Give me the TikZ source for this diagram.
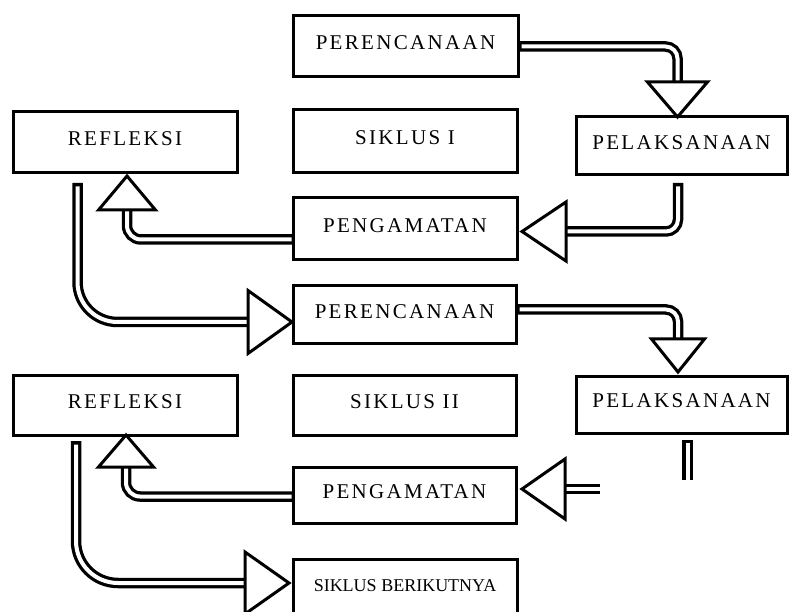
\documentclass[tikz,border=0pt]{standalone}
\usepackage{fontspec}
\setmainfont{Liberation Serif}
\newfontfamily\boxfont[LetterSpace=11]{Liberation Serif}
\usetikzlibrary{calc}
\newcommand\fatshaft[3][3.5pt]{%
  \draw[shaftout,rounded corners=#2] #3;
  \draw[shaftin,rounded corners=#2,shorten <=#1] #3;}
\begin{document}
\begin{tikzpicture}[x=1pt,y=-1pt,
  box/.style={draw,line width=3pt,inner sep=0pt,outer sep=0pt,text height=14pt,text depth=7.6pt,
    font=\boxfont\fontsize{21}{24}\selectfont},
  shaftout/.style={line width=10.5pt},
  shaftin/.style={line width=4pt,white},
  headtri/.style={draw,line width=3pt,fill=white,line join=miter}]
\useasboundingbox (0,0) rectangle (790,612);
\clip (0,0) rectangle (790,612);
% boxes
\node[box,minimum width=225pt,minimum height=61pt] (per1) at (405.5,46.5) {PERENCANAAN};
\node[box,minimum width=224pt,minimum height=61pt] (ref1) at (125,142.5) {REFLEKSI};
\node[box,minimum width=224pt,minimum height=63pt] (sik1) at (405,141.5) {SIKLUS I};
\node[box,minimum width=211pt,minimum height=58pt] (pel1) at (681.5,146) {PELAKSANAAN};
\node[box,minimum width=224pt,minimum height=62pt] (pen1) at (405,229) {PENGAMATAN};
\node[box,minimum width=223pt,minimum height=58pt] (per2) at (404.5,315) {PERENCANAAN};
\node[box,minimum width=224pt,minimum height=60pt] (ref2) at (125,405) {REFLEKSI};
\node[box,minimum width=223pt,minimum height=60pt] (sik2) at (404.5,405) {SIKLUS II};
\node[box,minimum width=211pt,minimum height=57pt] (pel2) at (681.5,404.5) {PELAKSANAAN};
\node[box,minimum width=223pt,minimum height=56pt] (pen2) at (404.5,495) {PENGAMATAN};
\node[box,minimum width=224pt,minimum height=60pt,text height=12pt,text depth=8pt,font=\rmfamily\fontsize{18}{20}\selectfont] (sb) at (405,589) {SIKLUS BERIKUTNYA};
% arrow 1: perencanaan -> pelaksanaan
\coordinate (t1) at ($(pel1.north)+(-4,0)$);
\fatshaft{12pt}{(per1.east) -| ($(t1)+(0,-34)$)}
\draw[headtri] (t1) -- ++(-30,-35) -- ++(60,0) -- cycle;
% arrow 2: pelaksanaan -> pengamatan
\coordinate (s2) at ($(pel1.south)+(-3.5,8)$);
\coordinate (t2) at ($(pen1.east)+(5,2.5)$);
\fatshaft{12pt}{(s2) |- ($(t2)+(43,0)$)}
\draw[headtri] (t2) -- ++(44,-29.5) -- ++(0,59) -- cycle;
% arrow 3: pengamatan -> refleksi
\coordinate (t3) at ($(ref1.south)+(2,3)$);
\fatshaft[1.5pt]{14pt}{($(pen1.west)+(0,10.5)$) -| ($(t3)+(0,33)$)}
\draw[headtri] (t3) -- ++(-28.5,34) -- ++(57,0) -- cycle;
% arrow 4: refleksi -> perencanaan 2
\coordinate (s4) at ($(ref1.south)+(-47.5,10)$);
\coordinate (t4) at ($(per2.west)+(-1,7)$);
\fatshaft{40pt}{(s4) |- ($(t4)+(-43,0)$)}
\draw[headtri] (t4) -- ++(-44,-31.5) -- ++(0,63) -- cycle;
% arrow 5: perencanaan 2 -> pelaksanaan 2
\coordinate (t5) at ($(pel2.north)+(-3.5,-4)$);
\fatshaft{12pt}{($(per2.east)+(0,-5.5)$) -| ($(t5)+(0,-32)$)}
\draw[headtri] (t5) -- ++(-26.5,-33) -- ++(53,0) -- cycle;
% arrow 6: broken pelaksanaan 2 -> pengamatan 2
\coordinate (f1) at ($(pel2.south)+(6,7)$);
\draw[shaftout] (f1) -- ++(0,40);
\draw[shaftin,shorten <=3pt] (f1) -- ++(0,40);
\coordinate (t6) at ($(pen2.east)+(6,-6)$);
\fatshaft[0pt]{0pt}{($(t6)+(78,0)$) -- ($(t6)+(42,0)$)}
\draw[headtri] (t6) -- ++(43,-30) -- ++(0,60) -- cycle;
% arrow 7: pengamatan 2 -> refleksi 2
\coordinate (t7) at ($(ref2.south)+(1,0)$);
\fatshaft[1.5pt]{14pt}{($(pen2.west)+(0,1.5)$) -| ($(t7)+(0,31)$)}
\draw[headtri] (t7) -- ++(-27.5,32) -- ++(55,0) -- cycle;
% arrow 8: refleksi 2 -> siklus berikutnya
\coordinate (s8) at ($(ref2.south)+(-49,6)$);
\coordinate (t8) at ($(sb.west)+(-4,-6)$);
\fatshaft{42pt}{(s8) |- ($(t8)+(-43,0)$)}
\draw[headtri] (t8) -- ++(-44,-31) -- ++(0,62) -- cycle;
\end{tikzpicture}
\end{document}
